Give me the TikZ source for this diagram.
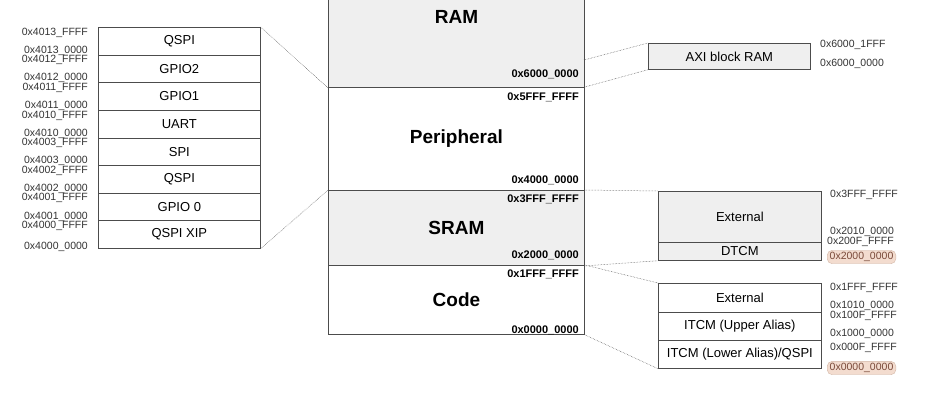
\documentclass[tikz,border=0pt]{standalone}
\usepackage{fontspec}
\setmainfont{Liberation Sans}
\definecolor{boxgray}{HTML}{EFEFEF}
\definecolor{hlfill}{HTML}{F3DCCF}
\definecolor{hldraw}{HTML}{D2B6A6}
\definecolor{hltext}{HTML}{7A4A3A}
\begin{document}
\begin{tikzpicture}[x=1pt,y=-1pt,
  box/.style={draw=black!70, line width=0.7pt, inner sep=0pt, anchor=north west, font=\fontsize{13}{13}\selectfont},
  mem/.style={draw=black!70, line width=0.9pt, inner sep=0pt, anchor=north west, minimum width=256pt, font=\bfseries\fontsize{19}{19}\selectfont},
  addr/.style={font=\fontsize{10.5}{10.5}\selectfont, text=black!80, inner sep=0pt},
  baddr/.style={font=\bfseries\fontsize{11}{11}\selectfont, inner sep=0pt, anchor=east},
  link/.style={densely dotted, draw=black!70, line width=0.5pt},
  hl/.style={addr, anchor=west, fill=hlfill, draw=hldraw, rounded corners=5pt, inner xsep=2.5pt, inner ysep=2pt, text=hltext}]
\useasboundingbox (0,0) rectangle (941,400);

% main memory map
\node[mem, fill=boxgray, minimum height=140pt] (ram) at (328,-53) {RAM};
\node[mem, minimum height=103pt] (per) at (328,87) {Peripheral};
\node[mem, fill=boxgray, minimum height=75pt] (sram) at (328,190) {SRAM};
\node[mem, minimum height=69pt] (code) at (328,265) {Code};

\node[baddr] (a1) at (579,74) {0x6000\_0000};
\node[baddr] (a2) at (579,97) {0x5FFF\_FFFF};
\node[baddr] (a3) at (579,180) {0x4000\_0000};
\node[baddr] (a4) at (579,199) {0x3FFF\_FFFF};
\node[baddr] (a5) at (579,255) {0x2000\_0000};
\node[baddr] (a6) at (579,274) {0x1FFF\_FFFF};
\node[baddr] (a7) at (579,330) {0x0000\_0000};

% peripheral detail (left)
\foreach \i/\t/\a in {1/QSPI/4013, 2/GPIO2/4012, 3/GPIO1/4011, 4/UART/4010, 5/SPI/4003, 6/QSPI/4002, 7/GPIO 0/4001, 8/QSPI XIP/4000}{
  \node[box, minimum width=162pt, minimum height=27.625pt] (l\i) at (98,{27+27.625*(\i-1)}) {\t};
  \node[addr, anchor=east] (lf\i) at (88,{27+27.625*(\i-1)+5.5}) {0x\a\_FFFF};
}
\foreach \i/\a in {1/4013, 2/4012, 3/4011, 4/4010, 5/4003, 6/4002, 7/4001}{
  \node[addr, anchor=east] (lz\i) at (88,{27+27.625*\i-4}) {0x\a\_0000};
}
\node[addr, anchor=east] (lz8) at (88,247) {0x4000\_0000};
\draw[link] (l1.north east) -- (ram.south west);
\draw[link] (l8.south east) -- (sram.north west);

% AXI block RAM
\node[box, fill=boxgray, minimum width=162pt, minimum height=26pt] (axi) at (648,43) {AXI block RAM};
\coordinate (ramlink) at (584,60);
\draw[link] (ramlink) -- (axi.north west);
\draw[link] (per.north east) -- (axi.south west);
\node[addr, anchor=west] (x1) at (820,45) {0x6000\_1FFF};
\node[addr, anchor=west] (x2) at (820,64) {0x6000\_0000};

% SRAM detail
\node[box, fill=boxgray, minimum width=163pt, minimum height=51pt] (ext1) at (658,191) {External};
\node[box, fill=boxgray, minimum width=163pt, minimum height=18pt] (dtcm) at (658,242) {DTCM};
\draw[link] (sram.north east) -- (ext1.north west);
\draw[link] (sram.south east) -- (dtcm.south west);
\node[addr, anchor=west] (s1) at (830,195) {0x3FFF\_FFFF};
\node[addr, anchor=west] (s2) at (830,231.5) {0x2010\_0000};
\node[addr, anchor=west] (s3) at (827,242) {0x200F\_FFFF};
\node[hl] (s4) at (827,257) {0x2000\_0000};

% Code detail
\node[box, minimum width=163pt, minimum height=29pt] (ext2) at (658,283) {External};
\node[box, minimum width=163pt, minimum height=28pt] (itu) at (658,312) {ITCM (Upper Alias)};
\node[box, minimum width=163pt, minimum height=28pt] (itl) at (658,340) {ITCM (Lower Alias)/QSPI};
\draw[link] (code.north east) -- (ext2.north west);
\draw[link] (code.south east) -- (itl.south west);
\node[addr, anchor=west] (c1) at (830,288) {0x1FFF\_FFFF};
\node[addr, anchor=west] (c2) at (830,305.5) {0x1010\_0000};
\node[addr, anchor=west] (c3) at (830,316) {0x100F\_FFFF};
\node[addr, anchor=west] (c4) at (830,334) {0x1000\_0000};
\node[addr, anchor=west] (c5) at (830,348) {0x000F\_FFFF};
\node[hl] (c6) at (827,368) {0x0000\_0000};
\end{tikzpicture}
\end{document}
